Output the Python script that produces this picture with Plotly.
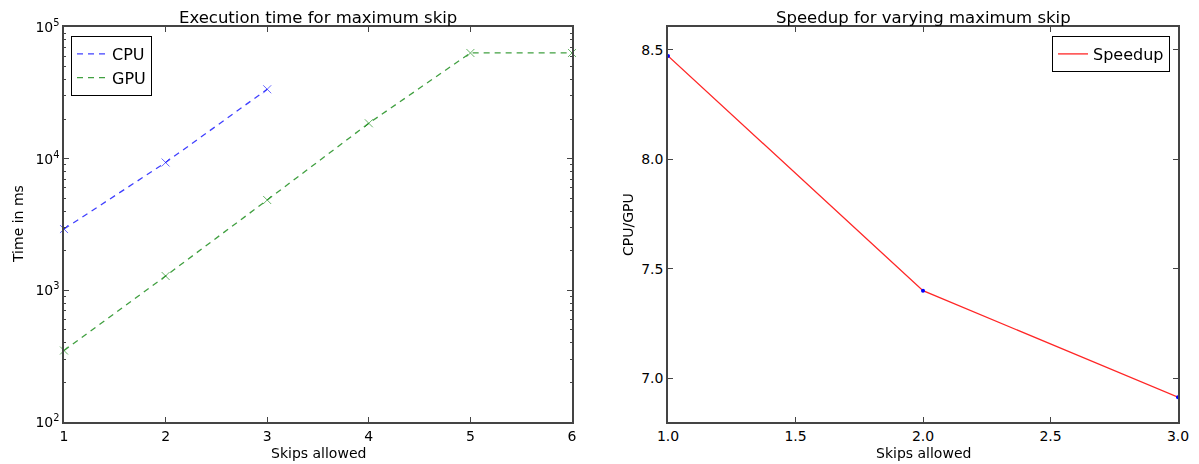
import plotly.graph_objects as go

skips = [1, 2, 3, 4, 5, 6]
cpu_skips = [1, 2, 3]
cpu_time = [2920, 9350, 33650]
gpu_time = [349, 1285, 4853, 18570, 63500, 63500]
speed_skips = [1, 2, 3]
speedup = [8.473, 7.40, 6.913]

log_tickvals = [100, 1000, 10000, 100000]
log_ticktext = ["10<sup>2</sup>", "10<sup>3</sup>", "10<sup>4</sup>", "10<sup>5</sup>"]

FONT = "DejaVu Sans"
fig = go.Figure()

# Left panel
fig.add_trace(go.Scatter(x=cpu_skips, y=cpu_time, mode="lines", name="CPU",
                         line=dict(color="#0000ff", width=1.3, dash="6px,5px"),
                         opacity=0.75, xaxis="x", yaxis="y", legend="legend"))
fig.add_trace(go.Scatter(x=skips, y=gpu_time, mode="lines", name="GPU",
                         line=dict(color="#008000", width=1.3, dash="6px,5px"),
                         opacity=0.75, xaxis="x", yaxis="y", legend="legend"))
fig.add_trace(go.Scatter(x=cpu_skips, y=cpu_time, mode="markers", showlegend=False,
                         marker=dict(symbol="x-thin", size=8, line=dict(color="#0000ff", width=1)),
                         opacity=0.6, xaxis="x", yaxis="y", cliponaxis=False))
fig.add_trace(go.Scatter(x=skips, y=gpu_time, mode="markers", showlegend=False,
                         marker=dict(symbol="x-thin", size=8, line=dict(color="#008000", width=1)),
                         opacity=0.6, xaxis="x", yaxis="y", cliponaxis=False))

# Right panel
fig.add_trace(go.Scatter(x=speed_skips, y=speedup, mode="lines", name="Speedup",
                         line=dict(color="#ff0000", width=1.3),
                         opacity=0.85, xaxis="x2", yaxis="y2", legend="legend2"))
fig.add_trace(go.Scatter(x=speed_skips, y=speedup, mode="markers", showlegend=False,
                         marker=dict(color="#0000ff", size=4),
                         xaxis="x2", yaxis="y2", cliponaxis=False))

axis_common = dict(showgrid=False, zeroline=False, showline=True, linecolor="#444444",
                   linewidth=1.5, mirror="allticks", ticks="inside", ticklen=5,
                   tickcolor="#444444", automargin=False,
                   tickfont=dict(family=FONT, size=14, color="black"))

fig.update_layout(
    width=1199, height=464,
    margin=dict(l=0, r=0, t=0, b=0),
    paper_bgcolor="white", plot_bgcolor="white",
    font=dict(family=FONT, size=14, color="black"),
    xaxis=dict(domain=[64/1199, 572/1199], range=[1, 6], dtick=1, anchor="y", **axis_common),
    yaxis=dict(domain=[1-422/464, 1-27/464], type="log", range=[2, 5], anchor="x",
               tickvals=log_tickvals, ticktext=log_ticktext,
               minor=dict(ticks="inside", ticklen=2.5, tickcolor="#444444", dtick="D1", showgrid=False),
               **axis_common),
    xaxis2=dict(domain=[668/1199, 1178/1199], range=[1, 3], dtick=0.5, tickformat=".1f", anchor="y2",
                **axis_common),
    yaxis2=dict(domain=[1-422/464, 1-27/464], range=[6.8, 8.605], dtick=0.5, tickformat=".1f", anchor="x2",
                **axis_common),
    legend=dict(x=71/1199, y=1-36/464, xanchor="left", yanchor="top",
                bordercolor="black", borderwidth=1, bgcolor="white",
                font=dict(family=FONT, size=16)),
    legend2=dict(x=1170/1199, y=1-36/464, xanchor="right", yanchor="top",
                 bordercolor="black", borderwidth=1, bgcolor="white",
                 font=dict(family=FONT, size=16)),
    annotations=[
        dict(text="Execution time for maximum skip", x=(64+572)/2/1199, y=1-17/464,
             xanchor="center", yanchor="middle",
             xref="paper", yref="paper", showarrow=False, font=dict(family=FONT, size=16.5)),
        dict(text="Speedup for varying maximum skip", x=(668+1178)/2/1199, y=1-17/464,
             xanchor="center", yanchor="middle",
             xref="paper", yref="paper", showarrow=False, font=dict(family=FONT, size=16.5)),
        dict(text="Skips allowed", x=(64+572)/2/1199, y=1-453/464, xanchor="center", yanchor="middle",
             xref="paper", yref="paper", showarrow=False, font=dict(family=FONT, size=14)),
        dict(text="Skips allowed", x=(668+1178)/2/1199, y=1-453/464, xanchor="center", yanchor="middle",
             xref="paper", yref="paper", showarrow=False, font=dict(family=FONT, size=14)),
        dict(text="Time in ms", x=18/1199, y=1-224/464, xanchor="center", yanchor="middle", textangle=-90,
             xref="paper", yref="paper", showarrow=False, font=dict(family=FONT, size=14)),
        dict(text="CPU/GPU", x=628/1199, y=1-224/464, xanchor="center", yanchor="middle", textangle=-90,
             xref="paper", yref="paper", showarrow=False, font=dict(family=FONT, size=14)),
    ],
)

fig.write_html("out.html")
